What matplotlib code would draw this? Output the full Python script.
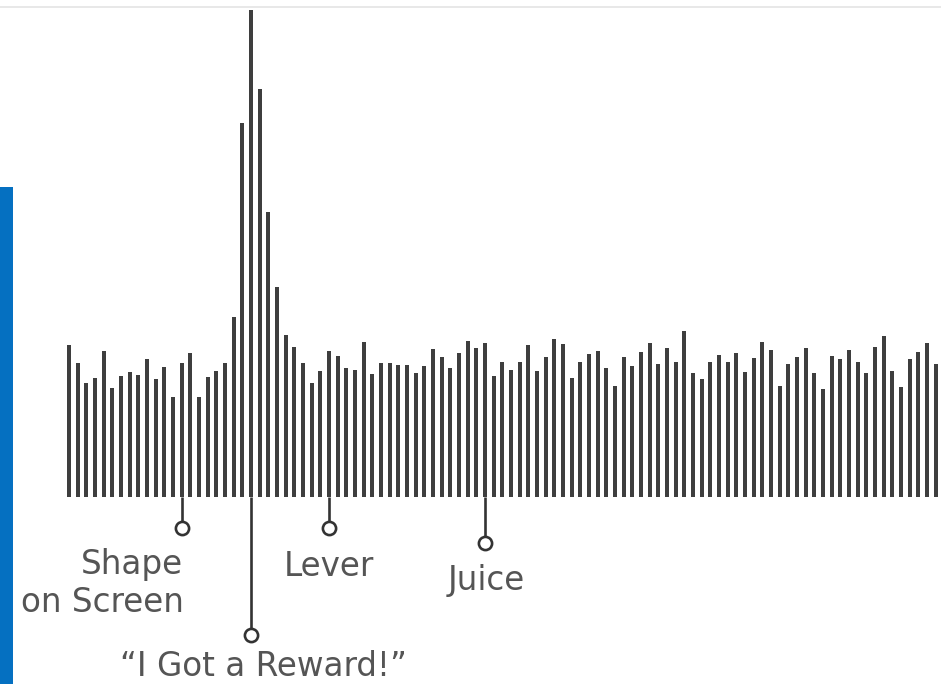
import matplotlib
matplotlib.use("Agg")
import matplotlib.pyplot as plt
from matplotlib.patches import Rectangle

# Firing rate per time bin (relative units, baseline = 0)
firing_rate = [
    152, 134, 114, 119, 146, 109, 121, 125, 122, 138,
    118, 130, 100, 134, 144, 100, 120, 126, 134, 180,
    374, 487, 408, 285, 210, 162, 150, 134, 114, 126,
    146, 141, 129, 127, 155, 123, 134, 134, 132, 132,
    124, 131, 148, 140, 129, 144, 156, 149, 154, 121,
    135, 127, 135, 152, 126, 140, 158, 153, 119, 135,
    143, 146, 129, 111, 140, 131, 145, 154, 133, 149,
    135, 166, 124, 118, 135, 142, 135, 144, 125, 139,
    155, 147, 111, 133, 140, 149, 124, 108, 141, 138,
    147, 135, 124, 150, 161, 126, 110, 138, 145, 154,
    133,
]

# Events marked below the raster
event_labels = ["Shape", "Lever", "Juice", "\u201cI Got a Reward!\u201d"]
event_bins = [13, 30, 48, 21]
event_depth = [-31, -31, -46, -138]

fig = plt.figure(figsize=(9.41, 6.84), dpi=100)
fig.patch.set_facecolor("white")
ax = fig.add_axes([0, 0, 1, 1])
ax.set_xlim(-7.96, 100.6)
ax.set_ylim(-187, 497)
ax.axis("off")

bins = list(range(len(firing_rate)))
ax.bar(bins, firing_rate, width=0.46, color="#3e3e3e", linewidth=0, zorder=2)

stem_color = "#333333"
for b, d in zip(event_bins, event_depth):
    ax.plot([b, b], [0, d], color=stem_color, lw=1.9, solid_capstyle="butt", zorder=3)
    ax.plot(b, d, "o", ms=9.5, mfc="white", mec=stem_color, mew=1.9, zorder=4)

txt_kw = dict(color="#555555", fontsize=23.5, family="DejaVu Sans", va="baseline")
ax.text(13.2, -77, "Shape", ha="right", **txt_kw)
ax.text(13.2, -115, "on Screen", ha="right", **txt_kw)
ax.text(30.0, -79, event_labels[1], ha="center", **txt_kw)
ax.text(48.1, -93, event_labels[2], ha="center", **txt_kw)
ax.text(22.4, -179, event_labels[3], ha="center", **txt_kw)

# faint top rule
fig.add_artist(plt.Line2D([0, 1], [1 - 7 / 684, 1 - 7 / 684], transform=fig.transFigure,
                          color="#e4e4e4", lw=1.2, zorder=1))
# blue side bar
fig.add_artist(Rectangle((0, 0), 13 / 941, 497 / 684, transform=fig.transFigure,
                         facecolor="#0570c1", edgecolor="none", zorder=10))

fig.savefig("out.png", dpi=100)
